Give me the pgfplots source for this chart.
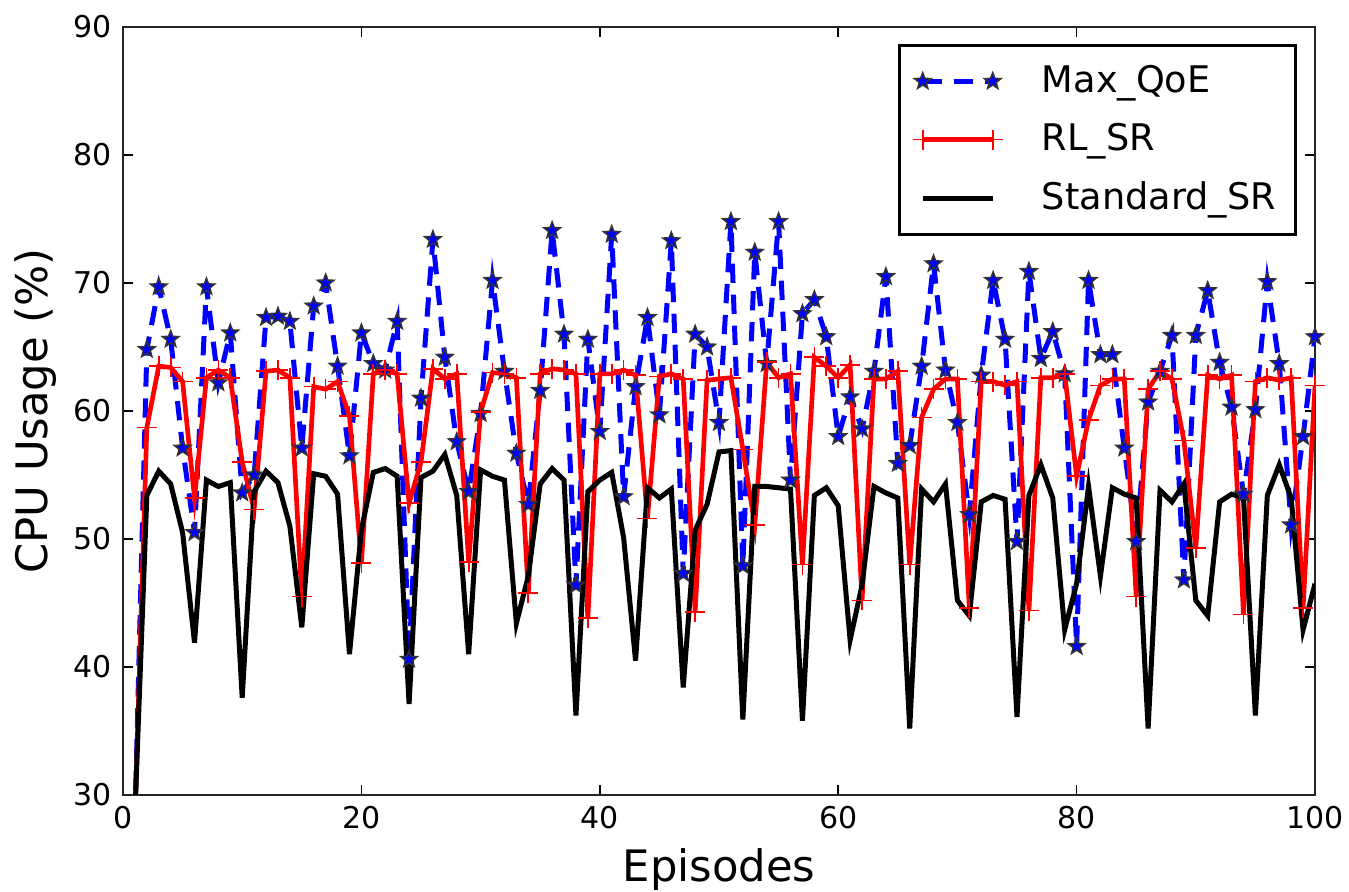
\documentclass[border=0pt]{standalone}
\usepackage{fontspec}
\setmainfont{DejaVu Sans}
\usepackage{pgfplots}
\pgfplotsset{compat=1.18}
\usetikzlibrary{calc}

\definecolor{qblue}{RGB}{0,0,255}
\definecolor{qred}{RGB}{255,0,0}

% filled five-pointed star, like matplotlib's '*'
\pgfdeclareplotmark{fstar}{%
  \pgfpathmoveto{\pgfpointpolar{90}{\pgfplotmarksize}}%
  \pgfpathlineto{\pgfpointpolar{126}{0.42\pgfplotmarksize}}%
  \pgfpathlineto{\pgfpointpolar{162}{\pgfplotmarksize}}%
  \pgfpathlineto{\pgfpointpolar{198}{0.42\pgfplotmarksize}}%
  \pgfpathlineto{\pgfpointpolar{234}{\pgfplotmarksize}}%
  \pgfpathlineto{\pgfpointpolar{270}{0.42\pgfplotmarksize}}%
  \pgfpathlineto{\pgfpointpolar{306}{\pgfplotmarksize}}%
  \pgfpathlineto{\pgfpointpolar{342}{0.42\pgfplotmarksize}}%
  \pgfpathlineto{\pgfpointpolar{18}{\pgfplotmarksize}}%
  \pgfpathlineto{\pgfpointpolar{54}{0.42\pgfplotmarksize}}%
  \pgfpathclose
  \pgfusepathqfillstroke
}

% episode, Max_QoE, RL_SR, Standard_SR
\pgfplotstableread{
ep  maxqoe rlsr  stdsr
1   28.0   28.0  28.5
2   64.8   58.7  53.4
3   69.7   63.5  55.3
4   65.6   63.4  54.3
5   57.1   62.3  50.5
6   50.5   53.2  41.9
7   69.7   62.6  54.6
8   62.2   63.2  54.1
9   66.1   62.6  54.4
10  53.6   56.0  37.6
11  55.0   52.3  53.7
12  67.3   63.1  55.3
13  67.4   63.2  54.4
14  67.0   62.6  51.0
15  57.1   45.5  43.1
16  68.2   61.9  55.1
17  70.0   61.7  54.9
18  63.5   62.3  53.5
19  56.5   59.6  41.0
20  66.1   48.1  50.7
21  63.7   62.9  55.2
22  63.2   63.2  55.5
23  67.0   62.9  54.9
24  40.6   52.8  37.1
25  61.0   56.0  54.8
26  73.4   63.3  55.3
27  64.2   62.5  56.6
28  57.6   62.9  53.4
29  53.7   48.2  41.0
30  59.8   59.9  55.4
31  70.2   63.0  54.9
32  63.1   62.9  54.6
33  56.7   62.6  43.4
34  52.7   45.8  47.1
35  61.6   62.9  54.3
36  74.1   63.3  55.5
37  66.0   63.2  54.6
38  46.4   62.9  36.2
39  65.6   43.8  53.7
40  58.4   62.9  54.6
41  73.8   62.9  55.2
42  53.3   63.2  50.1
43  61.9   62.8  40.5
44  67.3   51.6  54.0
45  59.7   62.7  53.2
46  73.3   62.9  53.9
47  47.3   62.5  38.4
48  66.0   44.3  50.7
49  65.0   62.4  52.7
50  59.1   62.5  56.8
51  74.8   62.6  56.9
52  47.9   57.0  35.9
53  72.4   51.1  54.1
54  63.7   63.8  54.1
55  74.8   62.6  54.0
56  54.6   62.9  53.9
57  67.6   48.0  35.8
58  68.7   64.2  53.4
59  65.8   63.5  54.0
60  58.0   62.6  52.6
61  61.1   63.6  42.1
62  58.6   45.2  46.4
63  63.1   62.5  54.1
64  70.5   62.5  53.6
65  55.9   63.1  53.2
66  57.3   48.0  35.2
67  63.5   59.5  53.9
68  71.5   61.7  52.9
69  63.2   62.5  54.3
70  59.1   62.5  45.2
71  51.9   44.6  44.0
72  62.8   62.3  52.9
73  70.2   62.3  53.4
74  65.6   62.0  53.1
75  49.8   62.3  36.1
76  70.9   44.4  53.4
77  64.1   62.6  55.8
78  66.2   62.6  53.2
79  62.9   62.9  42.9
80  41.6   54.9  46.5
81  70.2   59.3  54.1
82  64.4   62.0  47.1
83  64.4   62.5  54.0
84  57.1   62.5  53.5
85  49.8   45.5  53.2
86  60.7   61.7  35.2
87  63.1   63.1  53.8
88  65.9   62.5  52.9
89  46.8   57.7  54.3
90  65.9   49.3  45.2
91  69.4   62.8  44.0
92  63.8   62.5  52.9
93  60.3   62.8  53.5
94  53.5   44.1  53.2
95  60.1   62.3  36.2
96  70.1   62.6  53.4
97  63.7   62.4  55.8
98  51.1   62.6  53.2
99  58.0   44.6  42.9
100 65.8   62.0  46.5
}\cpudata

\begin{document}
\begin{tikzpicture}
\begin{axis}[
  scale only axis,
  width=357.6pt, height=230.4pt,
  xmin=0, xmax=100, ymin=30, ymax=90,
  xtick={0,20,...,100}, ytick={30,40,...,90},
  tick align=inside, major tick length=3pt,
  xtick pos=both, ytick pos=both,
  axis line style={line width=0.8pt, black!85},
  every tick/.style={black, line width=0.5pt},
  tick label style={font=\fontsize{9}{10}\selectfont},
  /pgf/number format/assume math mode=true,
  xlabel={Episodes}, ylabel={CPU Usage (\%)},
  label style={font=\fontsize{13}{15}\selectfont},
  xlabel style={yshift=1pt},
  ylabel style={yshift=-2pt},
  legend cell align=left,
  legend style={at={(0.985,0.978)}, anchor=north east,
    draw=black, line width=0.8pt, font=\fontsize{11}{13}\selectfont,
    row sep=3.8pt, inner xsep=4pt, inner ysep=4pt},
  legend image code/.code={
    \draw[mark repeat=2, mark phase=1, #1] plot coordinates {(0pt,0pt) (10.5pt,0pt) (21pt,0pt)};
    \path (-1pt,0pt) (33pt,0pt);
  },
]
\addplot[qblue, line width=1.5pt, dash pattern=on 5.8pt off 3.5pt,
  mark=fstar, mark size=2.6pt,
  mark options={solid, line width=0.45pt, draw=black!80, fill=qblue}]
  table[x=ep, y=maxqoe] {\cpudata};
\addlegendentry{Max\_QoE}
\addplot[qred, line width=1.4pt, mark=+, mark size=3pt,
  mark options={solid, line width=0.5pt}]
  table[x=ep, y=rlsr] {\cpudata};
\addlegendentry{RL\_SR}
\addplot[black, line width=1.5pt]
  table[x=ep, y=stdsr] {\cpudata};
\addlegendentry{Standard\_SR}
\coordinate (SW) at (rel axis cs:0,0);
\coordinate (NE) at (rel axis cs:1,1);
\end{axis}
\pgfresetboundingbox
\path[use as bounding box] ($(SW)+(-36.9pt,-29.1pt)$) rectangle ($(NE)+(10.2pt,8.1pt)$);
\end{tikzpicture}
\end{document}
